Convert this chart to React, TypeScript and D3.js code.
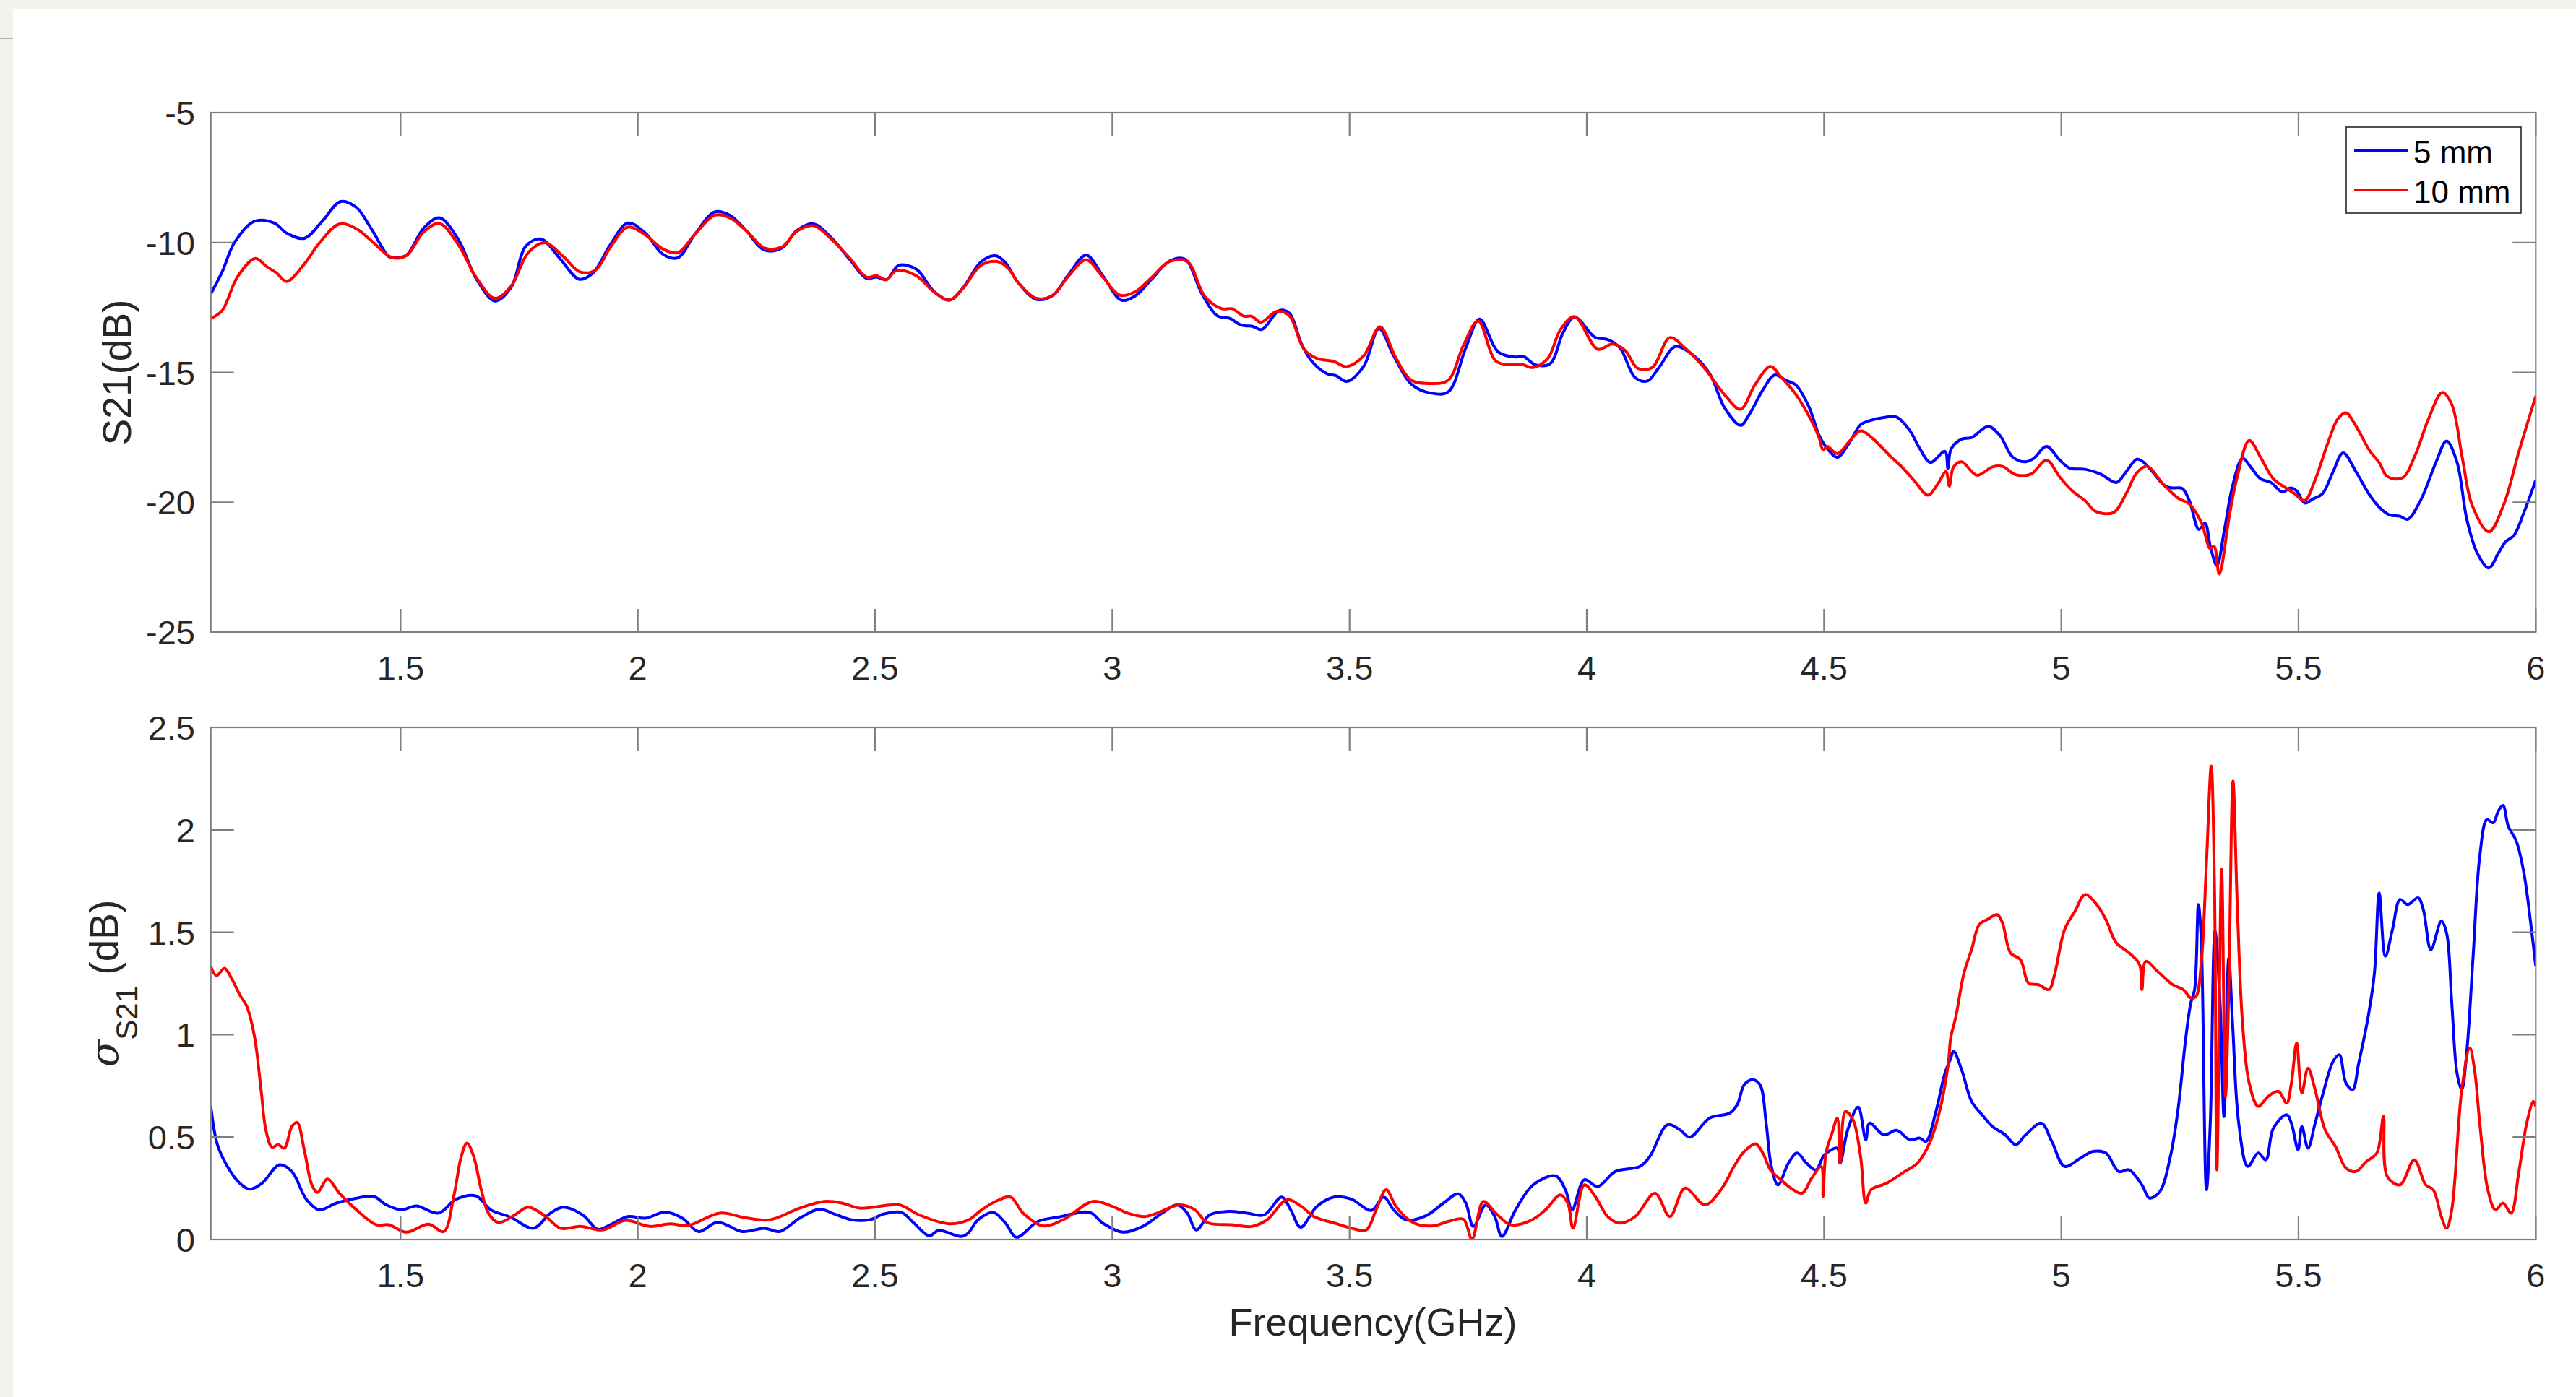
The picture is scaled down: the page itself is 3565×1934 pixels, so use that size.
import React from "react";
import * as d3 from "d3";

// ---------- DATA ----------
const legendLabels = ["5 mm", "10 mm"];
const xTickValues = [1.5, 2, 2.5, 3, 3.5, 4, 4.5, 5, 5.5, 6];
const topYTicks = [-25, -20, -15, -10, -5];
const botYTicks = [0, 0.5, 1, 1.5, 2, 2.5];

// S21 (dB), 5 mm
const s21_5mm: [number, number][] = [
  [1.1,-11.98],[1.124,-11.13],[1.15,-10.0],[1.192,-9.18],[1.234,-9.25],[1.26,-9.64],[1.297,-9.84],[1.334,-9.2],[1.374,-8.42],[1.407,-8.65],[1.439,-9.49],[1.475,-10.54],[1.486,-10.59],[1.512,-10.49],[1.549,-9.44],[1.582,-9.05],[1.622,-9.89],[1.659,-11.38],[1.699,-12.25],[1.733,-11.73],[1.764,-10.14],[1.796,-9.87],[1.837,-10.64],[1.876,-11.41],[1.905,-11.18],[1.942,-10.09],[1.979,-9.25],[2.016,-9.64],[2.052,-10.44],[2.084,-10.59],[2.12,-9.69],[2.162,-8.82],[2.194,-8.95],[2.226,-9.49],[2.267,-10.29],[2.304,-10.21],[2.335,-9.54],[2.37,-9.28],[2.409,-9.84],[2.446,-10.64],[2.482,-11.38],[2.503,-11.33],[2.524,-11.43],[2.55,-10.88],[2.587,-11.03],[2.624,-11.88],[2.657,-12.22],[2.686,-11.73],[2.723,-10.75],[2.754,-10.51],[2.775,-10.78],[2.801,-11.53],[2.84,-12.19],[2.875,-12.03],[2.906,-11.28],[2.945,-10.49],[2.98,-11.28],[3.019,-12.22],[3.048,-12.06],[3.082,-11.43],[3.121,-10.71],[3.153,-10.64],[3.189,-11.98],[3.221,-12.82],[3.247,-12.92],[3.273,-13.19],[3.294,-13.22],[3.315,-13.35],[3.352,-12.62],[3.373,-12.72],[3.399,-13.91],[3.42,-14.56],[3.452,-15.05],[3.472,-15.13],[3.494,-15.35],[3.53,-14.76],[3.562,-13.32],[3.593,-14.36],[3.63,-15.45],[3.672,-15.8],[3.708,-15.75],[3.745,-14.06],[3.774,-12.95],[3.813,-14.21],[3.85,-14.41],[3.866,-14.38],[3.892,-14.71],[3.923,-14.66],[3.95,-13.47],[3.974,-12.87],[4.018,-13.66],[4.044,-13.74],[4.07,-14.06],[4.102,-15.2],[4.128,-15.33],[4.154,-14.76],[4.186,-14.01],[4.217,-14.24],[4.259,-15.05],[4.29,-16.35],[4.324,-17.04],[4.343,-16.6],[4.371,-15.68],[4.396,-15.1],[4.42,-15.31],[4.441,-15.49],[4.468,-16.32],[4.49,-17.44],[4.507,-17.94],[4.528,-18.27],[4.55,-17.81],[4.577,-17.02],[4.596,-16.86],[4.626,-16.74],[4.653,-16.72],[4.681,-17.25],[4.702,-17.94],[4.724,-18.47],[4.755,-18.04],[4.761,-18.69],[4.768,-17.94],[4.79,-17.57],[4.811,-17.51],[4.846,-17.08],[4.871,-17.44],[4.898,-18.27],[4.925,-18.44],[4.942,-18.31],[4.969,-17.85],[4.996,-18.36],[5.018,-18.69],[5.05,-18.73],[5.083,-18.92],[5.116,-19.24],[5.137,-18.82],[5.159,-18.34],[5.17,-18.41],[5.192,-18.82],[5.219,-19.38],[5.235,-19.45],[5.255,-19.47],[5.27,-19.94],[5.29,-21.05],[5.303,-20.81],[5.314,-21.69],[5.328,-22.44],[5.344,-21.05],[5.361,-19.38],[5.382,-18.31],[5.399,-18.64],[5.42,-19.1],[5.442,-19.24],[5.466,-19.61],[5.483,-19.45],[5.496,-19.56],[5.513,-20.03],[5.529,-19.89],[5.551,-19.66],[5.573,-18.82],[5.594,-18.1],[5.621,-18.82],[5.649,-19.7],[5.671,-20.21],[5.692,-20.49],[5.714,-20.54],[5.73,-20.66],[5.757,-19.94],[5.79,-18.45],[5.812,-17.64],[5.834,-18.45],[5.855,-20.68],[5.877,-21.97],[5.901,-22.53],[5.921,-21.97],[5.937,-21.51],[5.954,-21.28],[5.975,-20.4],[6.0,-19.15]
];

// S21 (dB), 10 mm
const s21_10mm: [number, number][] = [
  [1.1,-12.92],[1.124,-12.62],[1.156,-11.33],[1.194,-10.61],[1.218,-10.93],[1.239,-11.18],[1.26,-11.5],[1.297,-10.83],[1.328,-10.04],[1.371,-9.29],[1.407,-9.47],[1.439,-9.94],[1.481,-10.57],[1.512,-10.51],[1.549,-9.59],[1.582,-9.27],[1.622,-10.09],[1.659,-11.33],[1.699,-12.15],[1.733,-11.68],[1.769,-10.39],[1.804,-10.01],[1.843,-10.54],[1.878,-11.13],[1.911,-11.06],[1.942,-10.19],[1.979,-9.41],[2.016,-9.71],[2.052,-10.24],[2.084,-10.39],[2.12,-9.69],[2.162,-8.95],[2.194,-9.05],[2.231,-9.59],[2.267,-10.21],[2.304,-10.17],[2.335,-9.57],[2.37,-9.35],[2.409,-9.89],[2.446,-10.59],[2.482,-11.33],[2.503,-11.28],[2.524,-11.43],[2.545,-11.08],[2.587,-11.28],[2.624,-11.9],[2.657,-12.22],[2.686,-11.75],[2.723,-10.88],[2.757,-10.73],[2.78,-10.98],[2.801,-11.53],[2.84,-12.15],[2.875,-12.03],[2.906,-11.33],[2.945,-10.67],[2.98,-11.33],[3.016,-12.03],[3.048,-11.9],[3.082,-11.36],[3.121,-10.73],[3.158,-10.73],[3.195,-12.08],[3.231,-12.55],[3.252,-12.55],[3.278,-12.84],[3.294,-12.84],[3.313,-13.07],[3.347,-12.65],[3.373,-12.82],[3.404,-14.11],[3.431,-14.46],[3.467,-14.58],[3.494,-14.78],[3.53,-14.36],[3.564,-13.25],[3.598,-14.46],[3.63,-15.3],[3.672,-15.43],[3.708,-15.3],[3.74,-13.96],[3.771,-13.02],[3.808,-14.56],[3.84,-14.71],[3.861,-14.68],[3.887,-14.81],[3.918,-14.46],[3.944,-13.37],[3.974,-12.85],[4.023,-14.11],[4.054,-13.91],[4.081,-14.16],[4.107,-14.84],[4.138,-14.81],[4.175,-13.66],[4.207,-14.06],[4.249,-14.86],[4.29,-15.85],[4.324,-16.42],[4.354,-15.49],[4.387,-14.77],[4.409,-15.17],[4.441,-15.86],[4.474,-16.88],[4.49,-17.53],[4.498,-17.99],[4.507,-17.85],[4.528,-18.13],[4.555,-17.62],[4.577,-17.25],[4.604,-17.57],[4.637,-18.18],[4.664,-18.64],[4.691,-19.19],[4.719,-19.73],[4.74,-19.29],[4.757,-18.82],[4.764,-19.38],[4.773,-18.64],[4.79,-18.44],[4.822,-18.96],[4.855,-18.64],[4.876,-18.62],[4.904,-18.94],[4.936,-18.92],[4.969,-18.38],[4.996,-19.01],[5.023,-19.56],[5.05,-19.94],[5.072,-20.35],[5.11,-20.4],[5.137,-19.66],[5.159,-18.87],[5.181,-18.62],[5.214,-19.29],[5.246,-19.84],[5.27,-20.07],[5.295,-20.77],[5.314,-21.79],[5.322,-21.69],[5.333,-22.76],[5.355,-20.44],[5.371,-19.01],[5.396,-17.62],[5.42,-18.27],[5.447,-19.1],[5.475,-19.47],[5.491,-19.66],[5.513,-19.94],[5.534,-19.19],[5.562,-17.71],[5.583,-16.79],[5.6,-16.56],[5.621,-17.06],[5.649,-17.99],[5.671,-18.5],[5.687,-19.01],[5.719,-19.06],[5.746,-18.18],[5.774,-16.79],[5.803,-15.77],[5.823,-16.23],[5.845,-18.27],[5.866,-20.12],[5.901,-21.14],[5.932,-20.12],[5.964,-18.08],[6.0,-15.91]
];

// sigma S21 (dB), 5 mm
const sigma_5mm: [number, number][] = [
  [1.1,0.653],[1.114,0.463],[1.135,0.357],[1.161,0.275],[1.182,0.246],[1.208,0.275],[1.245,0.365],[1.271,0.332],[1.302,0.194],[1.329,0.145],[1.365,0.178],[1.407,0.202],[1.444,0.21],[1.47,0.169],[1.502,0.145],[1.533,0.164],[1.58,0.129],[1.617,0.197],[1.659,0.213],[1.69,0.145],[1.732,0.109],[1.78,0.055],[1.816,0.129],[1.843,0.158],[1.884,0.12],[1.916,0.05],[1.942,0.072],[1.979,0.112],[2.016,0.104],[2.058,0.134],[2.094,0.104],[2.128,0.039],[2.168,0.085],[2.22,0.039],[2.267,0.055],[2.299,0.039],[2.341,0.104],[2.383,0.148],[2.414,0.125],[2.451,0.096],[2.488,0.096],[2.519,0.125],[2.556,0.132],[2.582,0.08],[2.614,0.018],[2.634,0.044],[2.682,0.015],[2.696,0.031],[2.717,0.096],[2.749,0.132],[2.775,0.08],[2.798,0.011],[2.843,0.088],[2.885,0.109],[2.953,0.132],[2.98,0.08],[3.022,0.036],[3.064,0.064],[3.105,0.129],[3.137,0.169],[3.158,0.129],[3.177,0.047],[3.205,0.12],[3.242,0.137],[3.284,0.129],[3.32,0.12],[3.357,0.207],[3.376,0.145],[3.397,0.06],[3.431,0.161],[3.467,0.207],[3.504,0.197],[3.546,0.142],[3.572,0.207],[3.593,0.145],[3.619,0.096],[3.661,0.116],[3.698,0.178],[3.729,0.223],[3.745,0.178],[3.761,0.064],[3.787,0.169],[3.806,0.112],[3.821,0.015],[3.85,0.145],[3.887,0.267],[3.934,0.311],[3.955,0.243],[3.969,0.145],[3.995,0.292],[4.023,0.259],[4.06,0.332],[4.112,0.357],[4.133,0.406],[4.17,0.56],[4.196,0.536],[4.217,0.5],[4.259,0.593],[4.301,0.617],[4.317,0.658],[4.332,0.756],[4.349,0.78],[4.365,0.756],[4.378,0.568],[4.389,0.357],[4.403,0.267],[4.425,0.373],[4.443,0.422],[4.463,0.373],[4.483,0.34],[4.501,0.414],[4.528,0.446],[4.534,0.373],[4.55,0.536],[4.572,0.647],[4.588,0.487],[4.596,0.568],[4.626,0.511],[4.653,0.533],[4.681,0.487],[4.702,0.495],[4.715,0.479],[4.735,0.617],[4.755,0.813],[4.766,0.878],[4.773,0.919],[4.79,0.829],[4.811,0.674],[4.833,0.609],[4.855,0.552],[4.882,0.511],[4.904,0.463],[4.925,0.511],[4.958,0.568],[4.98,0.479],[5.007,0.357],[5.04,0.397],[5.067,0.43],[5.094,0.422],[5.121,0.332],[5.143,0.34],[5.17,0.267],[5.186,0.202],[5.208,0.235],[5.23,0.406],[5.246,0.634],[5.262,0.976],[5.273,1.155],[5.281,1.22],[5.289,1.635],[5.295,1.464],[5.306,0.243],[5.314,0.568],[5.324,1.505],[5.335,1.138],[5.343,0.6],[5.353,1.375],[5.361,1.057],[5.374,0.568],[5.393,0.357],[5.415,0.422],[5.431,0.389],[5.447,0.544],[5.475,0.609],[5.485,0.568],[5.499,0.438],[5.507,0.552],[5.52,0.446],[5.535,0.568],[5.551,0.707],[5.573,0.87],[5.586,0.902],[5.6,0.764],[5.614,0.731],[5.627,0.862],[5.647,1.09],[5.66,1.301],[5.67,1.692],[5.683,1.383],[5.698,1.513],[5.714,1.66],[5.73,1.635],[5.752,1.668],[5.763,1.611],[5.779,1.415],[5.801,1.554],[5.812,1.497],[5.823,1.155],[5.834,0.813],[5.844,0.731],[5.855,0.927],[5.868,1.383],[5.882,1.871],[5.897,2.05],[5.91,2.034],[5.921,2.091],[5.931,2.119],[5.942,2.018],[5.959,1.945],[5.975,1.79],[5.991,1.513],[6.0,1.334]
];

// sigma S21 (dB), 10 mm
const sigma_10mm: [number, number][] = [
  [1.1,1.334],[1.112,1.288],[1.129,1.324],[1.145,1.269],[1.161,1.195],[1.176,1.138],[1.192,0.992],[1.206,0.731],[1.216,0.536],[1.229,0.451],[1.242,0.463],[1.255,0.446],[1.271,0.552],[1.282,0.572],[1.297,0.438],[1.313,0.267],[1.325,0.23],[1.346,0.295],[1.371,0.226],[1.407,0.145],[1.449,0.072],[1.475,0.072],[1.512,0.036],[1.559,0.075],[1.591,0.039],[1.612,0.21],[1.628,0.406],[1.64,0.471],[1.654,0.406],[1.67,0.243],[1.685,0.129],[1.706,0.083],[1.738,0.116],[1.769,0.158],[1.806,0.112],[1.837,0.055],[1.879,0.064],[1.926,0.047],[1.974,0.093],[2.026,0.064],[2.068,0.077],[2.105,0.068],[2.173,0.129],[2.225,0.107],[2.278,0.096],[2.341,0.153],[2.393,0.186],[2.43,0.178],[2.467,0.153],[2.498,0.158],[2.551,0.169],[2.593,0.12],[2.656,0.077],[2.697,0.096],[2.723,0.142],[2.754,0.186],[2.786,0.207],[2.812,0.129],[2.854,0.067],[2.896,0.096],[2.959,0.186],[3.001,0.161],[3.032,0.129],[3.069,0.112],[3.095,0.129],[3.142,0.169],[3.174,0.145],[3.2,0.083],[3.252,0.072],[3.294,0.064],[3.326,0.096],[3.368,0.194],[3.399,0.161],[3.425,0.112],[3.473,0.077],[3.504,0.055],[3.535,0.047],[3.556,0.145],[3.577,0.243],[3.598,0.161],[3.625,0.096],[3.646,0.072],[3.677,0.067],[3.708,0.088],[3.74,0.099],[3.758,0.002],[3.782,0.186],[3.808,0.129],[3.84,0.072],[3.882,0.093],[3.913,0.145],[3.944,0.218],[3.96,0.178],[3.971,0.055],[3.995,0.267],[4.018,0.21],[4.044,0.112],[4.07,0.08],[4.102,0.112],[4.144,0.226],[4.175,0.112],[4.207,0.251],[4.249,0.169],[4.285,0.251],[4.311,0.36],[4.332,0.43],[4.356,0.467],[4.371,0.422],[4.387,0.34],[4.409,0.292],[4.43,0.251],[4.454,0.226],[4.474,0.3],[4.494,0.357],[4.498,0.21],[4.504,0.422],[4.517,0.52],[4.528,0.593],[4.534,0.373],[4.545,0.625],[4.561,0.585],[4.577,0.406],[4.588,0.178],[4.599,0.243],[4.632,0.275],[4.67,0.332],[4.697,0.373],[4.724,0.479],[4.746,0.65],[4.762,0.862],[4.767,0.984],[4.778,1.09],[4.795,1.301],[4.811,1.415],[4.827,1.537],[4.844,1.562],[4.865,1.586],[4.876,1.546],[4.893,1.399],[4.914,1.366],[4.931,1.252],[4.952,1.244],[4.974,1.22],[4.985,1.285],[5.007,1.513],[5.029,1.603],[5.05,1.684],[5.072,1.643],[5.094,1.562],[5.116,1.448],[5.143,1.399],[5.165,1.342],[5.17,1.22],[5.178,1.358],[5.203,1.309],[5.235,1.244],[5.257,1.22],[5.273,1.179],[5.284,1.187],[5.295,1.35],[5.306,1.839],[5.316,2.311],[5.323,1.708],[5.328,0.34],[5.338,1.806],[5.346,0.699],[5.353,1.22],[5.362,2.238],[5.371,1.627],[5.382,1.057],[5.396,0.764],[5.415,0.65],[5.436,0.699],[5.458,0.723],[5.475,0.666],[5.485,0.764],[5.496,0.959],[5.507,0.715],[5.52,0.837],[5.535,0.731],[5.556,0.536],[5.578,0.454],[5.6,0.349],[5.621,0.332],[5.643,0.381],[5.665,0.422],[5.679,0.601],[5.687,0.308],[5.714,0.267],[5.744,0.389],[5.768,0.267],[5.784,0.243],[5.801,0.112],[5.812,0.055],[5.823,0.145],[5.844,0.731],[5.861,0.935],[5.871,0.829],[5.882,0.568],[5.899,0.243],[5.915,0.145],[5.931,0.178],[5.948,0.129],[5.964,0.324],[5.981,0.568],[5.995,0.674],[6.0,0.65]
];

// ---------- LAYOUT ----------
const W = 3565;
const H = 1934;
const FONT = "'Liberation Sans', Arial, Helvetica, sans-serif";
const AXIS_COLOR = "#7f7f7f";
const TEXT_COLOR = "#262626";
const BLUE = "#0000ff";
const RED = "#ff0000";
const TICK = 32;

const x = d3.scaleLinear().domain([1.1, 6]).range([291.7, 3509.3]);
const yTop = d3.scaleLinear().domain([-25, -5]).range([875, 156]);
const yBot = d3.scaleLinear().domain([0, 2.5]).range([1716, 1007]);

const fmt = (v: number) => String(v);

function Panel({
  y,
  yTicks,
  id,
  series,
  curve,
}: {
  y: d3.ScaleLinear<number, number>;
  yTicks: number[];
  id: string;
  series: { data: [number, number][]; color: string }[];
  curve: d3.CurveFactory;
}) {
  const [x0, x1] = x.range();
  const [yb, yt] = y.range();
  const line = d3
    .line<[number, number]>()
    .x((d) => x(d[0]))
    .y((d) => y(d[1]))
    .curve(curve);
  return (
    <g>
      <clipPath id={id}>
        <rect x={x0} y={yt} width={x1 - x0} height={yb - yt} />
      </clipPath>
      <g clipPath={`url(#${id})`}>
        {series.map((s, i) => (
          <path
            key={i}
            d={line(s.data) || ""}
            fill="none"
            stroke={s.color}
            strokeWidth={4}
            strokeLinejoin="round"
          />
        ))}
      </g>
      {/* box */}
      <rect x={x0} y={yt} width={x1 - x0} height={yb - yt} fill="none" stroke={AXIS_COLOR} strokeWidth={2.2} />
      {/* x ticks */}
      {xTickValues.map((t) => (
        <g key={"xt" + t}>
          <line x1={x(t)} x2={x(t)} y1={yb} y2={yb - TICK} stroke={AXIS_COLOR} strokeWidth={2.2} />
          <line x1={x(t)} x2={x(t)} y1={yt} y2={yt + TICK} stroke={AXIS_COLOR} strokeWidth={2.2} />
          <text x={x(t)} y={yb + 66} textAnchor="middle" fontFamily={FONT} fontSize={47} fill={TEXT_COLOR}>
            {fmt(t)}
          </text>
        </g>
      ))}
      {/* y ticks */}
      {yTicks.map((t) => (
        <g key={"yt" + t}>
          <line x1={x0} x2={x0 + TICK} y1={y(t)} y2={y(t)} stroke={AXIS_COLOR} strokeWidth={2.2} />
          <line x1={x1} x2={x1 - TICK} y1={y(t)} y2={y(t)} stroke={AXIS_COLOR} strokeWidth={2.2} />
          <text x={270} y={y(t) + 17} textAnchor="end" fontFamily={FONT} fontSize={47} fill={TEXT_COLOR}>
            {fmt(t)}
          </text>
        </g>
      ))}
    </g>
  );
}

export default function App() {
  return (
    <svg
      width={W}
      height={H}
      viewBox={`0 0 ${W} ${H}`}
      style={{ position: "absolute", left: 0, top: 0, display: "block" }}
    >
      <rect x={0} y={0} width={W} height={H} fill="#f3f1eb" />
      <rect x={18} y={12} width={W - 18} height={H - 12} fill="#ffffff" />
      <line x1={0} x2={18} y1={53} y2={53} stroke="#b5b3ae" strokeWidth={2} />

      <Panel
        y={yTop}
        yTicks={topYTicks}
        id="clipTop"
        curve={d3.curveCatmullRom.alpha(0.5)}
        series={[
          { data: s21_5mm, color: BLUE },
          { data: s21_10mm, color: RED },
        ]}
      />
      <Panel
        y={yBot}
        yTicks={botYTicks}
        id="clipBot"
        curve={d3.curveCatmullRom.alpha(0.5)}
        series={[
          { data: sigma_5mm, color: BLUE },
          { data: sigma_10mm, color: RED },
        ]}
      />

      {/* legend */}
      <g>
        <rect x={3247} y={176} width={242} height={119} fill="#ffffff" stroke={TEXT_COLOR} strokeWidth={1.6} />
        {legendLabels.map((lab, i) => {
          const ly = i === 0 ? 208 : 263;
          return (
            <g key={lab}>
              <line x1={3258} x2={3332} y1={ly} y2={ly} stroke={i === 0 ? BLUE : RED} strokeWidth={4} />
              <text x={3340} y={ly + 18} fontFamily={FONT} fontSize={44} fill="#000000">
                {lab}
              </text>
            </g>
          );
        })}
      </g>

      {/* axis labels */}
      <text
        transform={`translate(181, ${(156 + 875) / 2}) rotate(-90)`}
        textAnchor="middle"
        fontFamily={FONT}
        fontSize={55}
        fill={TEXT_COLOR}
      >
        S21(dB)
      </text>
      <text
        transform={`translate(163, ${(1007 + 1716) / 2}) rotate(-90)`}
        textAnchor="middle"
        fontFamily={FONT}
        fontSize={55}
        fill={TEXT_COLOR}
      >
        <tspan fontFamily="'DejaVu Serif', 'Liberation Serif', serif" fontStyle="italic">σ</tspan>
        <tspan fontSize={42} dy={27}>S21</tspan>
        <tspan dy={-27}> (dB)</tspan>
      </text>
      <text x={1900} y={1849} textAnchor="middle" fontFamily={FONT} fontSize={54} fill={TEXT_COLOR}>
        Frequency(GHz)
      </text>
    </svg>
  );
}
